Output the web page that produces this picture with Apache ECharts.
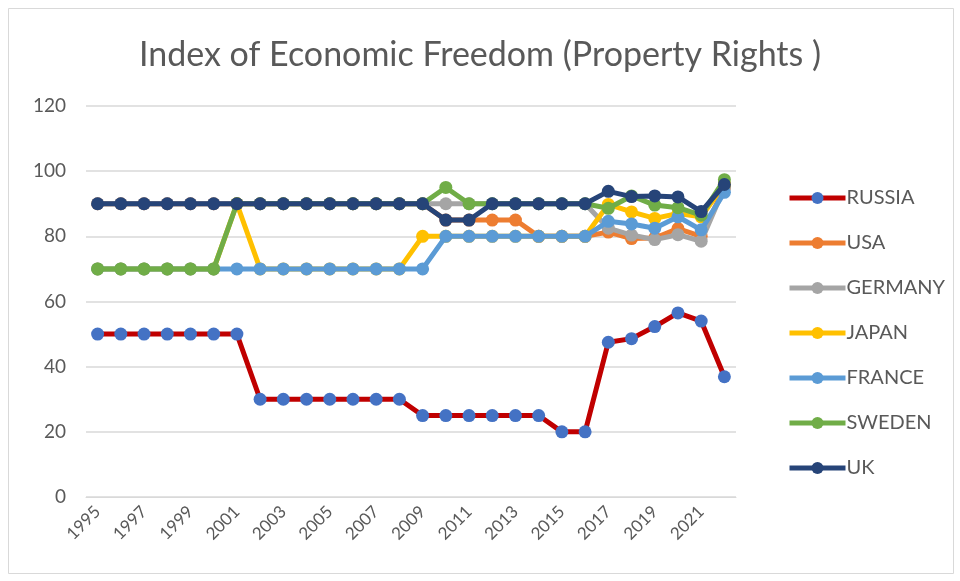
<!DOCTYPE html>
<html>
<head>
<meta charset="utf-8">
<script src="https://cdn.jsdelivr.net/npm/echarts@6/dist/echarts.min.js"></script>
<style>
  html, body { margin: 0; padding: 0; background: #fff; }
  #chart { width: 960px; height: 581px; }
</style>
</head>
<body>
<div id="chart"></div>
<script>
// years on the x axis
var years = [];
for (var y = 1995; y <= 2022; y++) years.push(String(y));

// property rights scores
var russia  = [50,50,50,50,50,50,50,30,30,30,30,30,30,30,25,25,25,25,25,25,20,20,47.5,48.6,52.3,56.5,54.0,36.9];
var usa     = [90,90,90,90,90,90,90,90,90,90,90,90,90,90,90,85,85,85,85,80,80,80,81.3,79.3,79.5,82.4,80.0,95.0];
var germany = [90,90,90,90,90,90,90,90,90,90,90,90,90,90,90,90,90,90,90,90,90,90,82.5,80.4,79.0,80.5,78.5,95.0];
var japan   = [70,70,70,70,70,70,90,70,70,70,70,70,70,70,80,80,80,80,80,80,80,80,89.8,87.5,85.5,87.0,86.0,96.0];
var france  = [70,70,70,70,70,70,70,70,70,70,70,70,70,70,70,80,80,80,80,80,80,80,84.6,83.8,82.5,86.0,82.0,93.5];
var sweden  = [70,70,70,70,70,70,90,90,90,90,90,90,90,90,90,95,90,90,90,90,90,90,88.6,92.4,89.6,88.8,86.5,97.4];
var uk      = [90,90,90,90,90,90,90,90,90,90,90,90,90,90,90,85,85,90,90,90,90,90,93.8,92.2,92.4,92.1,87.6,95.9];

var names = ["RUSSIA", "USA", "GERMANY", "JAPAN", "FRANCE", "SWEDEN", "UK"];
var values = [russia, usa, germany, japan, france, sweden, uk];
var lineColors = ["#c00000", "#ed7d31", "#a5a5a5", "#ffc000", "#5b9bd5", "#70ad47", "#264478"];
var dotColors  = ["#4472c4", "#ed7d31", "#a5a5a5", "#ffc000", "#5b9bd5", "#70ad47", "#264478"];

var font = "Lato, 'Open Sans', sans-serif";

var series = [];
for (var i = 0; i < names.length; i++) {
  series.push({
    name: names[i],
    type: "line",
    data: values[i],
    symbol: "circle",
    symbolSize: 13,
    showAllSymbol: true,
    itemStyle: { color: dotColors[i] },
    lineStyle: { color: lineColors[i], width: 5 },
    z: 2 + i
  });
}

var myChart = echarts.init(document.getElementById("chart"));
var option = {
  animation: false,
  backgroundColor: "#fff",
  textStyle: { fontFamily: font },
  title: {
    text: "Index of Economic Freedom (Property Rights )",
    left: "center",
    top: 33,
    textStyle: { fontSize: 34, fontWeight: "normal", color: "#595959", fontFamily: font }
  },
  graphic: [{
    type: "rect",
    shape: { x: 8.5, y: 8.5, width: 945, height: 565 },
    style: { fill: "none", stroke: "#d9d9d9", lineWidth: 1 },
    silent: true
  }],
  legend: {
    data: names,
    orient: "vertical",
    left: 782,
    top: 183,
    itemWidth: 56,
    itemHeight: 15,
    itemGap: 25,
    lineStyle: { width: 5 },
    textStyle: { fontSize: 20, color: "#595959", fontFamily: font, padding: [0, 0, 0, -4] }
  },
  grid: { left: 86, right: 224, top: 106, bottom: 84 },
  xAxis: {
    type: "category",
    data: years,
    boundaryGap: true,
    axisLine: { lineStyle: { color: "#d9d9d9" } },
    axisTick: { show: false },
    axisLabel: { interval: 1, rotate: 45, fontSize: 17, color: "#595959", margin: 12, fontFamily: font }
  },
  yAxis: {
    type: "value",
    min: 0,
    max: 120,
    interval: 20,
    axisLine: { show: false },
    axisTick: { show: false },
    axisLabel: { fontSize: 19, color: "#595959", margin: 20, fontFamily: font },
    splitLine: { lineStyle: { color: "#d9d9d9", width: 1.5 } }
  },
  series: series
};
myChart.setOption(option);
</script>
</body>
</html>
